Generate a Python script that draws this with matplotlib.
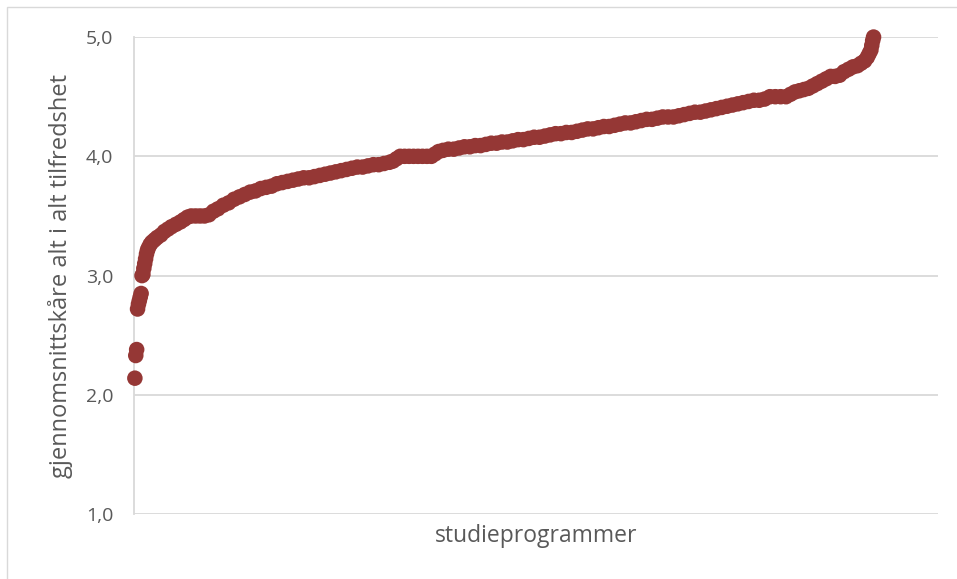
import numpy as np
import matplotlib.pyplot as plt
from matplotlib.patches import Rectangle

# rank of study programme (sorted by score) and its average satisfaction score
rank = [1, 2, 3, 4, 5, 6, 7, 8, 9, 10, 11, 12, 13, 14, 15, 16, 18, 20, 23, 26,
        30, 34, 38, 42, 47, 52, 56, 60, 64, 69, 74, 79, 84, 89, 94, 100, 106, 112, 118, 124,
        130, 136, 142, 148, 154, 160, 166, 172, 178, 184, 190, 196, 202, 208, 214, 220, 226, 232, 238, 244,
        250, 256, 262, 268, 274, 280, 286, 290, 294, 298, 303, 308, 313, 318, 323, 328, 333, 337, 341, 346,
        352, 358, 364, 370, 376, 382, 388, 394, 400, 406, 412, 418, 424, 430, 436, 442, 448, 454, 460, 466,
        472, 478, 484, 490, 496, 502, 508, 514, 520, 526, 532, 538, 544, 550, 556, 562, 568, 574, 580, 586,
        592, 598, 604, 610, 616, 622, 628, 634, 640, 646, 652, 658, 664, 670, 676, 682, 688, 694, 700, 706,
        712, 718, 724, 730, 735, 740, 745, 750, 755, 760, 765, 770, 775, 780, 785, 790, 795, 800, 805, 810,
        814, 818, 821, 823, 825, 826, 827, 828]
score = [2.14, 2.33, 2.38, 2.72, 2.76, 2.79, 2.82, 2.85, 3.00, 3.01, 3.06, 3.10, 3.14, 3.18, 3.21, 3.23, 3.26, 3.28, 3.30, 3.32,
         3.34, 3.37, 3.39, 3.41, 3.43, 3.45, 3.47, 3.49, 3.50, 3.50, 3.50, 3.50, 3.51, 3.54, 3.56, 3.59, 3.61, 3.64, 3.66, 3.68,
         3.70, 3.71, 3.73, 3.74, 3.75, 3.77, 3.78, 3.79, 3.80, 3.81, 3.82, 3.82, 3.83, 3.84, 3.85, 3.86, 3.87, 3.88, 3.89, 3.90,
         3.91, 3.91, 3.92, 3.93, 3.93, 3.94, 3.95, 3.96, 3.98, 4.00, 4.00, 4.00, 4.00, 4.00, 4.00, 4.00, 4.00, 4.02, 4.04, 4.05,
         4.06, 4.06, 4.07, 4.08, 4.08, 4.09, 4.09, 4.10, 4.11, 4.11, 4.12, 4.12, 4.13, 4.14, 4.14, 4.15, 4.16, 4.16, 4.17, 4.18,
         4.19, 4.19, 4.20, 4.20, 4.21, 4.22, 4.23, 4.23, 4.24, 4.25, 4.25, 4.26, 4.27, 4.28, 4.28, 4.29, 4.30, 4.31, 4.31, 4.32,
         4.33, 4.33, 4.33, 4.34, 4.35, 4.36, 4.37, 4.37, 4.38, 4.39, 4.40, 4.41, 4.42, 4.43, 4.44, 4.45, 4.46, 4.47, 4.47, 4.48,
         4.50, 4.50, 4.50, 4.50, 4.52, 4.54, 4.55, 4.56, 4.57, 4.59, 4.61, 4.63, 4.65, 4.67, 4.67, 4.68, 4.71, 4.73, 4.75, 4.76,
         4.78, 4.80, 4.83, 4.86, 4.89, 4.93, 4.97, 5.00]

yticks = [1.0, 2.0, 3.0, 4.0, 5.0]
ytick_labels = ['1,0', '2,0', '3,0', '4,0', '5,0']

plt.rcParams['font.family'] = ['Open Sans', 'DejaVu Sans']

fig = plt.figure(figsize=(9.57, 5.79), dpi=100)
ax = fig.add_axes([0.140, 0.112, 0.840, 0.824])

ax.scatter(rank, score, s=125, color='#953735', edgecolors='none', zorder=3, clip_on=False)

ax.set_xlim(0, 900)
ax.set_ylim(1, 5)
ax.set_yticks(yticks)
ax.set_yticklabels(ytick_labels)
ax.set_xticks([])
ax.grid(axis='y', color='#d9d9d9', linewidth=1.3)
ax.set_axisbelow(True)
for side in ['top', 'right', 'bottom']:
    ax.spines[side].set_visible(False)
ax.spines['left'].set_color('#d9d9d9')
ax.spines['left'].set_linewidth(1.3)
ax.tick_params(axis='y', length=0, pad=15, labelsize=14, labelcolor='#595959')

ax.set_ylabel('gjennomsnittskåre alt i alt tilfredshet', fontsize=17, color='#595959', labelpad=9)
ax.set_xlabel('studieprogrammer', fontsize=16.5, color='#595959', labelpad=7)

# light chart border as in the original
fig.patches.append(Rectangle((7 / 957, -0.01), 1.0, 1 - 7 / 579 + 0.01, transform=fig.transFigure,
                             fill=False, edgecolor='#d9d9d9', linewidth=1.0))

fig.savefig('out.png', dpi=100)
